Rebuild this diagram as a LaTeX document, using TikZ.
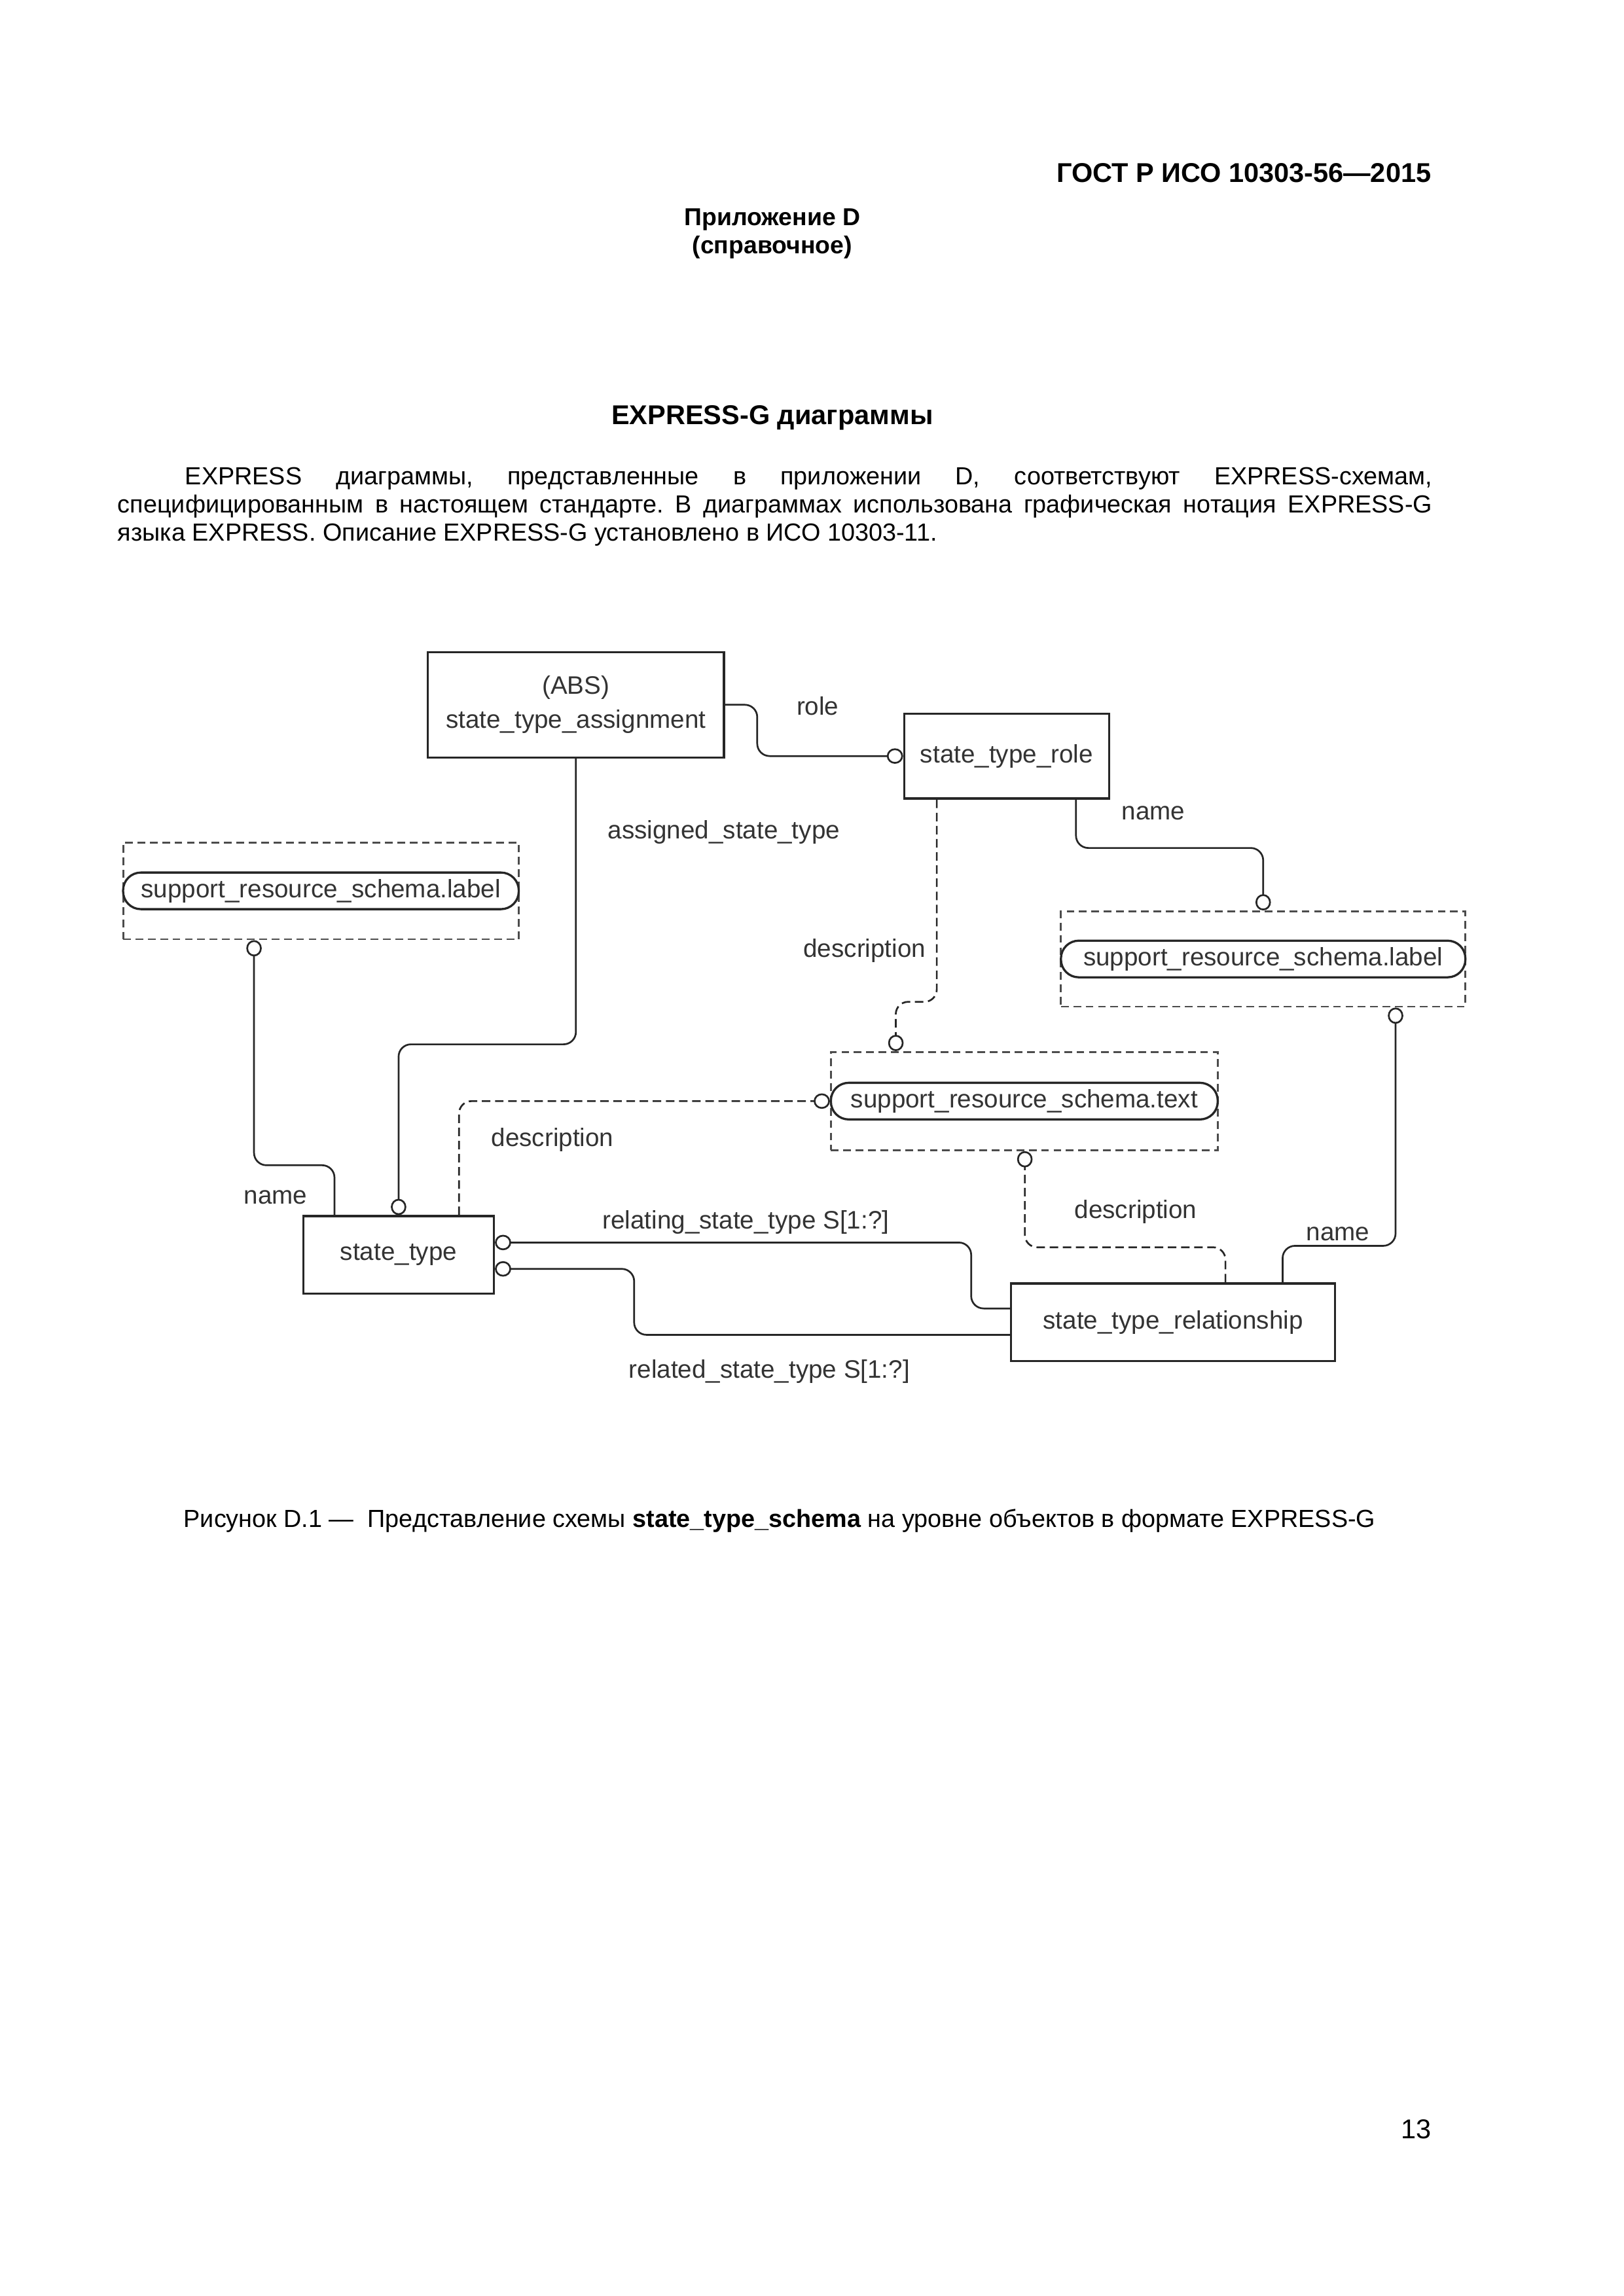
\documentclass[tikz,border=0pt]{standalone}
\usepackage{fontspec}
\setmainfont{Liberation Sans}
\usetikzlibrary{arrows.meta,calc}
\newlength{\gridu}
\setlength{\gridu}{0.18953mm}
\begin{document}
\frenchspacing
\begin{tikzpicture}[
            x=\gridu, y=-\gridu,
            every node/.style={inner sep=0pt, text=black!80, font=\fontsize{9.3}{12.5}\selectfont},
            entity/.style={draw=black!85, line width=0.8pt, fill=white},
            pill/.style={draw=black!85, line width=0.8pt, rounded corners=2.3mm, minimum height=25\gridu},
            typebox/.style={draw=black!70, line width=0.7pt, dash pattern=on 1mm off 0.6mm},
            rel/.style={draw=black!85, line width=0.65pt, rounded corners=1.6mm},
            opt/.style={rel, dash pattern=on 1.1mm off 0.6mm},
            ring/.style={-{Circle[open,length=2.1mm,width=2mm]}},
            ringstart/.style={{Circle[open,length=2.1mm,width=2mm]}-},
            pagetext/.style={text=black, font=\fontsize{9.1}{10.4}\selectfont},
            pagebold/.style={text=black, font=\fontsize{10}{10.4}\selectfont\bfseries},
            ]
            \useasboundingbox (0,0) rectangle (1108,1567);
            \node[pagebold, anchor=east] (gost) at (977,118) {ГОСТ Р ИСО 10303-56—2015};
            \node[pagebold, font=\fontsize{9}{10.4}\selectfont\bfseries, align=center] (annex) at (527,159.5) {Приложение D\\(справочное)};
            \node[pagebold] (title) at (527,285) {EXPRESS-G диаграммы};
            \node[pagetext, anchor=north west, text width=897\gridu, align=justify] (intro) at (80,318.5)
              {\hspace*{46\gridu}EXPRESS диаграммы, представленные в приложении D, соответствуют EXPRESS-схемам,\linebreak
              специфицированным в настоящем стандарте. В диаграммах использована графическая нотация EXPRESS-G\linebreak
              языка EXPRESS. Описание EXPRESS-G установлено в ИСО 10303-11.};

            \node[entity, minimum width=202\gridu, minimum height=72\gridu, align=center] (sta) at (393,481) {(ABS)\\state\_type\_assignment};
            \node[entity, minimum width=140\gridu, minimum height=58\gridu] (str) at (687,516) {state\_type\_role};
            \node[entity, minimum width=130\gridu, minimum height=53\gridu] (stype) at (272,856.5) {state\_type};
            \node[entity, minimum width=221\gridu, minimum height=53\gridu] (strel) at (800.5,902.5) {state\_type\_relationship};
            \node[typebox, minimum width=270\gridu, minimum height=66\gridu] (srsA) at (219,608) {};
            \node[pill, minimum width=270\gridu] (srsApill) at (srsA) {support\_resource\_schema.label};
            \node[typebox, minimum width=276\gridu, minimum height=65\gridu] (srsB) at (862,654.5) {};
            \node[pill, minimum width=276\gridu] (srsBpill) at (srsB) {support\_resource\_schema.label};
            \node[typebox, minimum width=264\gridu, minimum height=67\gridu] (srst) at (699,751.5) {};
            \node[pill, minimum width=264\gridu] (srstpill) at (srst) {support\_resource\_schema.text};

            \draw[rel, ring] (sta.east) -- ++(22,0) |- (str.west);
            \draw[rel, ring] (sta.south) -- ++(0,195) -| (stype.north);
            \draw[rel, ring] ($(str.south west)+(118,0)$) -- ++(0,33) -| (srsB.north);
            \draw[opt, ring] ($(str.south west)+(23,0)$) -- ++(0,138) -- ++(-28,0) -- ($(srst.north west)+(45,0)$);
            \draw[rel, ring] ($(stype.north west)+(22,0)$) -- ++(0,-34) -| ($(srsA.south west)+(90,0)$);
            \draw[opt, ring] ($(stype.north west)+(107,0)$) |- (srst.west);
            \draw[rel, ringstart] ($(stype.east)+(0,-8.5)$) -- ++(325,0) |- ($(strel.west)+(0,-9.5)$);
            \draw[rel, ringstart] ($(stype.east)+(0,9.5)$) -- ++(95,0) |- ($(strel.west)+(0,8.5)$);
            \draw[opt, ring] ($(strel.north west)+(147,0)$) -- ++(0,-24) -| ($(srst.south west)+(133,0)$);
            \draw[rel, ring] ($(strel.north west)+(186,0)$) -- ++(0,-25) -| ($(srsB.south west)+(229,0)$);

            \node (lrole) at (558,482) {role};
            \node (lassigned) at (494,568) {assigned\_state\_type};
            \node (lnameR) at (787,555) {name};
            \node (ldescR) at (590,649) {description};
            \node (ldescT) at (377,778) {description};
            \node (lnameT) at (188,817) {name};
            \node (lrelating) at (509,834) {relating\_state\_type S[1:?]};
            \node (lrelated) at (525,936) {related\_state\_type S[1:?]};
            \node (ldescL) at (775,827) {description};
            \node (lnameL) at (913,842) {name};

            \node[pagetext] (caption) at (532,1038) {Рисунок D.1 —\ \ Представление схемы \textbf{state\_type\_schema} на уровне объектов в формате EXPRESS-G};
            \node[pagetext, font=\fontsize{10}{10.4}\selectfont, anchor=east] (pageno) at (977,1453) {13};
            \end{tikzpicture}
\end{document}
